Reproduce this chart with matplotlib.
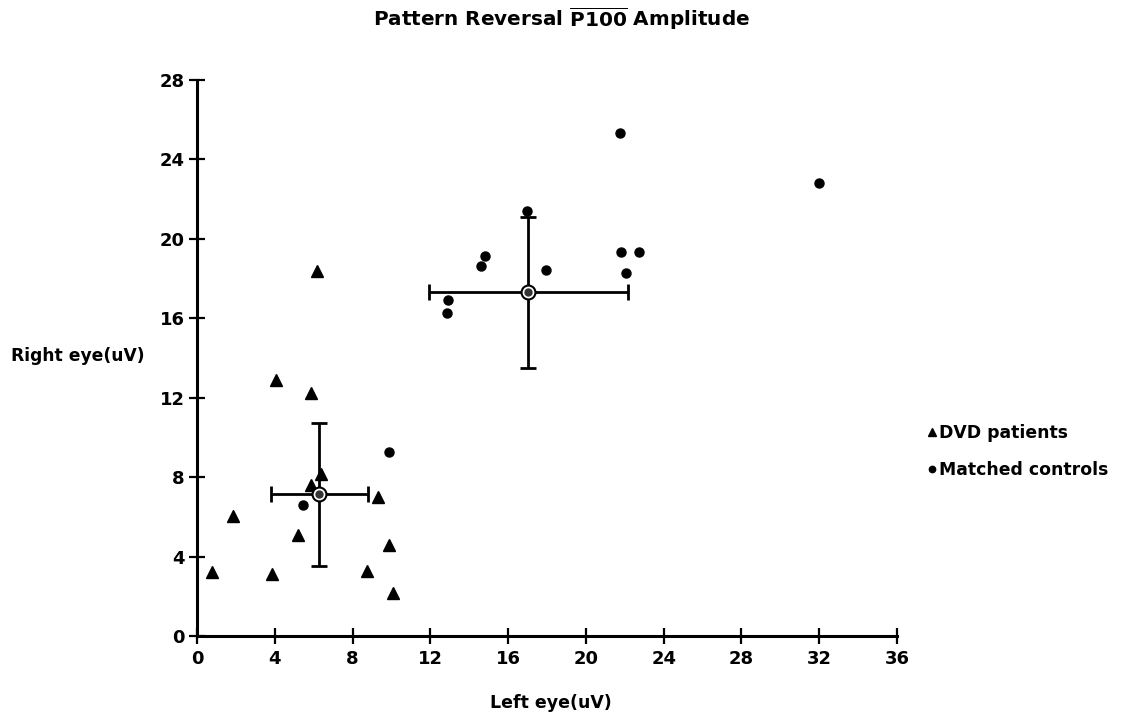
import matplotlib
matplotlib.use('Agg')
import matplotlib.pyplot as plt

plt.rcParams['font.family'] = ['DejaVu Sans']
plt.rcParams['font.weight'] = 'bold'
plt.rcParams['mathtext.fontset'] = 'dejavusans'

# DVD patients (triangles)
dvd_left = [6.17, 4.06, 5.88, 6.36, 5.86, 9.29, 1.87, 5.21, 9.89, 0.79, 3.87, 8.73, 10.07]
dvd_right = [18.38, 12.89, 12.22, 8.16, 7.59, 7.01, 6.06, 5.09, 4.6, 3.21, 3.12, 3.29, 2.15]

# matched controls (dots)
ctl_left = [9.89, 5.47, 21.76, 32.01, 16.96, 14.8, 14.62, 17.95, 21.81, 22.74, 22.08, 12.93, 12.88]
ctl_right = [9.26, 6.6, 25.31, 22.79, 21.4, 19.12, 18.62, 18.44, 19.35, 19.35, 18.29, 16.9, 16.28]

# group means with SD bars
mean_left = [6.29, 17.04]
mean_right = [7.13, 17.31]
sd_left = [2.5, 5.1]
sd_right = [3.6, 3.8]

xticks = [0, 4, 8, 12, 16, 20, 24, 28, 32, 36]
yticks = [0, 4, 8, 12, 16, 20, 24, 28]

fig = plt.figure(figsize=(11.27, 7.15), dpi=100)
ax = fig.add_axes([197 / 1127, 79 / 715, 700 / 1127, 556 / 715])

ax.plot(dvd_left, dvd_right, linestyle='none', marker='^', ms=8, color='black',
        label='DVD patients', clip_on=False)
ax.plot(ctl_left, ctl_right, linestyle='none', marker='o', ms=6.5, color='black',
        label='Matched controls', clip_on=False)

ax.errorbar(mean_left, mean_right, xerr=sd_left, yerr=sd_right, fmt='none',
            ecolor='black', elinewidth=2, capsize=6, capthick=2)
ax.plot(mean_left, mean_right, linestyle='none', marker='o', ms=10, mfc='white',
        mec='black', mew=1.5)
ax.plot(mean_left, mean_right, linestyle='none', marker='o', ms=5, color='#333333')

ax.set_xlim(0, 36)
ax.set_ylim(0, 28)
ax.set_xticks(xticks)
ax.set_yticks(yticks)
ax.tick_params(direction='inout', length=12, width=1.6, labelsize=13)
ax.tick_params(axis='y', pad=3)
ax.tick_params(axis='x', pad=4)
for lab in ax.get_xticklabels() + ax.get_yticklabels():
    lab.set_fontweight('bold')

for side in ['top', 'right']:
    ax.spines[side].set_visible(False)
for side in ['left', 'bottom']:
    ax.spines[side].set_linewidth(2.2)

ax.set_xlabel('Left eye(uV)', fontsize=12.5, fontweight='bold', va='center')
ax.xaxis.set_label_coords(0.505, -0.12)
ax.set_ylabel('Right eye(uV)', fontsize=12.3, fontweight='bold', rotation=0,
              ha='center', va='center')
ax.yaxis.set_label_coords(-0.17, 0.504)

fig.text(562 / 1127, 1 - 19 / 715,
         r'Pattern Reversal $\overline{\mathbf{P100}}$ Amplitude',
         ha='center', va='center', fontsize=14.4, fontweight='bold')

leg = ax.legend(loc='upper left', bbox_to_anchor=(1.021, 0.409), frameon=False,
                handlelength=0.5, handletextpad=0.2, labelspacing=1.1,
                markerscale=0.7, prop={'weight': 'bold', 'size': 12.4})

fig.savefig('out.png', dpi=100)
